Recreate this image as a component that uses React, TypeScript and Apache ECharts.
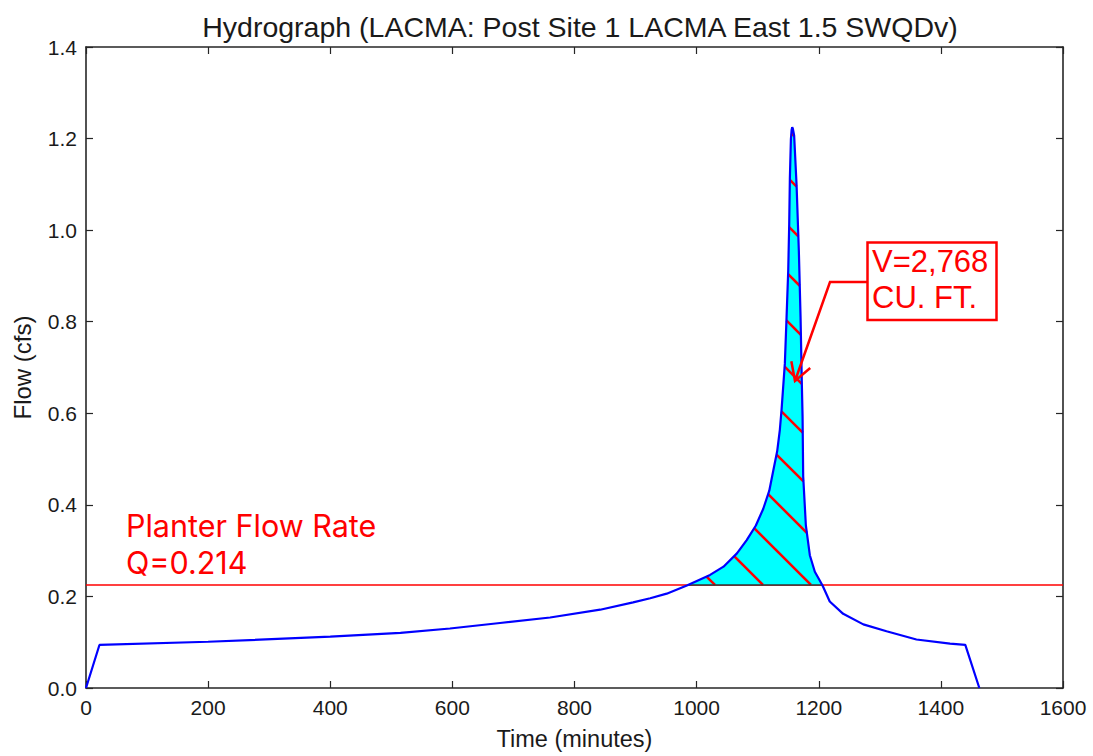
import React, { useEffect, useRef } from "react";
import * as echarts from "echarts";

// ---- data ----
const TIMES = [0, 22, 200, 400, 515, 596, 678, 760, 842, 896, 924, 951, 984, 1022, 1044, 1066, 1082, 1097, 1109, 1119, 1125.4, 1131.9, 1136.3, 1139.1, 1144.5, 1147.3, 1150, 1151.6, 1152.7, 1154.4, 1155.5, 1156.5, 1157.5, 1159.7, 1163.7, 1167.4, 1170.2, 1172.3, 1173.5, 1174.5, 1178.9, 1185.4, 1193.6, 1206.2, 1218, 1240, 1273, 1311, 1360, 1415, 1440, 1463];
const FLOWS = [0, 0.094, 0.101, 0.112, 0.1205, 0.13, 0.142, 0.154, 0.171, 0.187, 0.196, 0.206, 0.224, 0.247, 0.265, 0.294, 0.323, 0.355, 0.391, 0.431, 0.474, 0.517, 0.564, 0.608, 0.709, 0.81, 0.911, 1.012, 1.113, 1.199, 1.218, 1.225, 1.222, 1.207, 1.098, 0.955, 0.81, 0.665, 0.593, 0.463, 0.355, 0.29, 0.254, 0.224, 0.189, 0.162, 0.139, 0.124, 0.106, 0.097, 0.094, 0];
const THRESHOLD = 0.225;
const X_TICKS = { min: 0, max: 1600, interval: 200 };
const Y_TICKS = { min: 0, max: 1.4, interval: 0.2 };
const TITLE = "Hydrograph (LACMA: Post Site 1 LACMA East 1.5 SWQDv)";
const X_NAME = "Time (minutes)";
const Y_NAME = "Flow (cfs)";
const PLANTER_LABEL = ["Planter Flow Rate", "Q=0.214"];
const VOLUME_LABEL = ["V=2,768", "CU. FT."];

// ---- styling ----
const FONT = "Liberation Sans, Arial, sans-serif";
const AXIS_COLOR = "#262626";
const HATCH_START = 82;
const HATCH_STEP = 48;

function buildFillPolygon(): number[][] {
  const pts: number[][] = [];
  for (let i = 0; i < TIMES.length - 1; i++) {
    const t0 = TIMES[i], v0 = FLOWS[i], t1 = TIMES[i + 1], v1 = FLOWS[i + 1];
    if (v0 >= THRESHOLD) pts.push([t0, v0]);
    if ((v0 - THRESHOLD) * (v1 - THRESHOLD) < 0) {
      const f = (THRESHOLD - v0) / (v1 - v0);
      pts.push([t0 + f * (t1 - t0), THRESHOLD]);
    }
  }
  return pts;
}

const FILL_POLY = buildFillPolygon();

export default function App() {
  const ref = useRef<HTMLDivElement>(null);
  useEffect(() => {
    if (!ref.current) return;
    const chart = echarts.init(ref.current, undefined, { renderer: "svg" });
    const lineStyle = { color: AXIS_COLOR, width: 1.6 };
    const tick = { show: true, inside: true, length: 7, lineStyle: { color: AXIS_COLOR, width: 1.2 } };

    // arrow geometry (annotation layout, pixels)
    const tip = [795, 381];
    const knee = [830, 282];
    const dx = knee[0] - tip[0], dy = knee[1] - tip[1];
    const L = Math.hypot(dx, dy);
    const ux = dx / L, uy = dy / L;
    const arm = (ang: number) => {
      const c = Math.cos(ang), s = Math.sin(ang);
      return [tip[0] + 20 * (ux * c - uy * s), tip[1] + 20 * (ux * s + uy * c)];
    };
    const a1 = arm(Math.PI / 6), a2 = arm(-Math.PI / 6);

    chart.setOption({
      animation: false,
      backgroundColor: "#ffffff",
      title: {
        text: TITLE,
        left: 575,
        textAlign: "center",
        top: 7,
        textStyle: { fontFamily: FONT, fontSize: 28.5, fontWeight: "normal", color: "#1a1a1a" },
      },
      grid: { left: 86, top: 47, width: 977, height: 647 },
      xAxis: [
        {
          type: "value", ...X_TICKS, position: "bottom",
          axisLine: { show: true, onZero: false, lineStyle },
          axisTick: tick,
          axisLabel: { fontFamily: FONT, fontSize: 21, color: "#1a1a1a", margin: 9, formatter: (v: number) => String(v) },
          splitLine: { show: false },
          name: X_NAME, nameLocation: "middle", nameGap: 39,
          nameTextStyle: { fontFamily: FONT, fontSize: 23.5, color: "#1a1a1a" },
        },
        {
          type: "value", ...X_TICKS, position: "top",
          axisLine: { show: true, onZero: false, lineStyle },
          axisTick: tick, axisLabel: { show: false }, splitLine: { show: false },
        },
      ],
      yAxis: [
        {
          type: "value", ...Y_TICKS, position: "left",
          axisLine: { show: true, onZero: false, lineStyle },
          axisTick: tick,
          axisLabel: { fontFamily: FONT, fontSize: 21, color: "#1a1a1a", margin: 9, formatter: (v: number) => v.toFixed(1) },
          splitLine: { show: false },
          name: Y_NAME, nameLocation: "middle", nameGap: 52,
          nameTextStyle: { fontFamily: FONT, fontSize: 24, color: "#1a1a1a" },
        },
        {
          type: "value", ...Y_TICKS, position: "right",
          axisLine: { show: true, onZero: false, lineStyle },
          axisTick: tick, axisLabel: { show: false }, splitLine: { show: false },
        },
      ],
      series: [
        {
          type: "line", name: "threshold", xAxisIndex: 0, yAxisIndex: 0,
          data: [[X_TICKS.min, THRESHOLD], [X_TICKS.max, THRESHOLD]],
          showSymbol: false, lineStyle: { color: "#ff0000", width: 1.3 }, z: 2,
        },
        {
          type: "custom", name: "volume", xAxisIndex: 0, yAxisIndex: 0,
          data: [[0, 0]], z: 3, silent: true,
          renderItem: (params: any, api: any) => {
            const pts = FILL_POLY.map((p) => api.coord(p));
            const children: any[] = [
              { type: "polygon", shape: { points: pts }, style: { fill: "#00ffff", stroke: null } },
            ];
            const n = pts.length;
            for (let k = 0; k < 20; k++) {
              const c = HATCH_START + k * HATCH_STEP;
              const hits: number[][] = [];
              for (let i = 0; i < n; i++) {
                const a = pts[i], b = pts[(i + 1) % n];
                const fa = a[0] - a[1] - c, fb = b[0] - b[1] - c;
                if ((fa < 0) !== (fb < 0)) {
                  const f = fa / (fa - fb);
                  hits.push([a[0] + f * (b[0] - a[0]), a[1] + f * (b[1] - a[1])]);
                }
              }
              hits.sort((p, q) => p[0] - q[0]);
              for (let j = 0; j + 1 < hits.length; j += 2) {
                children.push({
                  type: "line",
                  shape: { x1: hits[j][0], y1: hits[j][1], x2: hits[j + 1][0], y2: hits[j + 1][1] },
                  style: { stroke: "#ff0000", lineWidth: 2.5 },
                });
              }
            }
            const first = pts[0], last = pts[n - 1];
            children.push({
              type: "line",
              shape: { x1: first[0], y1: first[1], x2: last[0], y2: last[1] },
              style: { stroke: "#333333", lineWidth: 1.3 },
            });
            return { type: "group", children };
          },
        },
        {
          type: "line", name: "hydrograph", xAxisIndex: 0, yAxisIndex: 0,
          data: TIMES.map((t, i) => [t, FLOWS[i]]),
          showSymbol: false, lineStyle: { color: "#0000ff", width: 2.2 }, z: 4,
        },
      ],
      graphic: [
        {
          type: "text", left: 126, top: 507, z: 10,
          style: {
            text: PLANTER_LABEL.join("\n"), fontFamily: "Inter", fontSize: 30.5,
            lineHeight: 37, fill: "#ff0000",
          },
        },
        {
          type: "polyline", z: 10,
          shape: { points: [[867, 282], knee, tip] },
          style: { stroke: "#ff0000", lineWidth: 2.5, fill: null },
        },
        {
          type: "polyline", z: 10,
          shape: { points: [a1, tip, a2] },
          style: { stroke: "#ff0000", lineWidth: 2.5, fill: null },
        },
        {
          type: "rect", z: 10,
          shape: { x: 867.5, y: 242.5, width: 129, height: 77.5 },
          style: { stroke: "#ff0000", lineWidth: 2.5, fill: "#ffffff" },
        },
        {
          type: "text", left: 872, top: 243, z: 11,
          style: {
            text: VOLUME_LABEL.join("\n"), fontFamily: FONT, fontSize: 31,
            lineHeight: 36.5, fill: "#ff0000",
          },
        },
      ],
    });
    return () => chart.dispose();
  }, []);
  return <div ref={ref} style={{ position: "absolute", left: 0, top: 0, width: 1093, height: 756 }} />;
}
